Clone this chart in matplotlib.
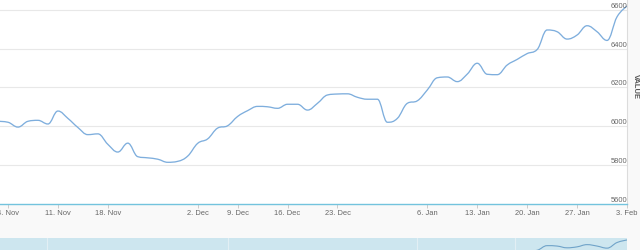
import numpy as np
import matplotlib
matplotlib.use("Agg")
from matplotlib import pyplot as plt
from matplotlib.path import Path
from matplotlib.patches import PathPatch

plt.rcParams['font.family'] = ['Liberation Sans', 'DejaVu Sans']

# one value per trading day, index -1 .. 62 (ordinal x axis, like Highstock)
days = np.arange(-1, 63)
values = [6025, 6020, 5995, 6025, 6030, 6011, 6078, 6040, 5993, 5956,
          5960, 5906, 5866, 5912, 5842, 5836, 5829, 5813, 5818, 5845,
          5911, 5934, 5990, 6002, 6050, 6080, 6102, 6100, 6092, 6113,
          6113, 6083, 6118, 6161, 6166, 6167, 6149, 6139, 6139, 6020,
          6040, 6118, 6131, 6187, 6250, 6254, 6230, 6269, 6325, 6268,
          6266, 6316, 6345, 6375, 6396, 6497, 6488, 6450, 6471, 6519,
          6488, 6443, 6565, 6620]

tick_days = [0, 5, 10, 19, 23, 28, 33, 42, 47, 52, 57, 62]
tick_labels = ["4. Nov", "11. Nov", "18. Nov", "2. Dec", "9. Dec", "16. Dec",
               "23. Dec", "6. Jan", "13. Jan", "20. Jan", "27. Jan", "3. Feb"]
y_ticks = [5600, 5800, 6000, 6200, 6400, 6600]
nav_grid_days = [3.9, 22.0, 41.0, 50.8]

LINE = '#7eaedd'
TXT = '#666666'


def spline_path(xs, ys, smoothing=1.5):
    # same control point rule as the Highcharts spline series
    n = len(xs)
    lc = [None] * n
    rc = [None] * n
    den = smoothing + 1
    for i in range(1, n - 1):
        px, py = xs[i], ys[i]
        lx, ly = xs[i - 1], ys[i - 1]
        nx, ny = xs[i + 1], ys[i + 1]
        lcx = (smoothing * px + lx) / den
        lcy = (smoothing * py + ly) / den
        rcx = (smoothing * px + nx) / den
        rcy = (smoothing * py + ny) / den
        if rcx != lcx:
            corr = (rcy - lcy) * (rcx - px) / (rcx - lcx) + py - rcy
            lcy += corr
            rcy += corr
        if lcy > ly and lcy > py:
            lcy = max(ly, py); rcy = 2 * py - lcy
        elif lcy < ly and lcy < py:
            lcy = min(ly, py); rcy = 2 * py - lcy
        if rcy > ny and rcy > py:
            rcy = max(ny, py); lcy = 2 * py - rcy
        elif rcy < ny and rcy < py:
            rcy = min(ny, py); lcy = 2 * py - rcy
        lc[i] = (lcx, lcy)
        rc[i] = (rcx, rcy)
    verts = [(xs[0], ys[0])]
    codes = [Path.MOVETO]
    for i in range(1, n):
        a = rc[i - 1] or (xs[i - 1], ys[i - 1])
        b = lc[i] or (xs[i], ys[i])
        verts += [a, b, (xs[i], ys[i])]
        codes += [Path.CURVE4] * 3
    return Path(verts, codes)


W, H = 640, 250
fig = plt.figure(figsize=(6.4, 2.5), dpi=100, facecolor='#f9f9f9')

# main plot
ax = fig.add_axes([0, (H - 203.5) / H, 627 / W, 203.5 / H])
ax.set_facecolor('white')
ax.set_xlim(-0.8, 62)
ax.set_ylim(5600, 6652)
ax.add_patch(PathPatch(spline_path(days, values), fill=False,
                       edgecolor=LINE, lw=0.95, clip_on=True))

for v in y_ticks[1:]:
    ax.axhline(v, color='#e8e8e8', lw=0.8, zorder=0)
for v in y_ticks:
    ax.annotate(str(v), xy=(1, v), xycoords=('axes fraction', 'data'),
                xytext=(0, 0), textcoords='offset points',
                ha='right', va='bottom', fontsize=5.4, color=TXT)

ax.set_yticks([])
ax.set_xticks(tick_days, tick_labels)
ax.tick_params(axis='x', length=3, width=0.7, color='#cccccc',
               labelsize=5.4, labelcolor=TXT, pad=1.5)
for s in ['top', 'left']:
    ax.spines[s].set_visible(False)
ax.spines['right'].set_color('#dcdcdc')
ax.spines['right'].set_linewidth(0.8)
ax.spines['bottom'].set_color('#73c3dd')
ax.spines['bottom'].set_linewidth(1.0)

fig.text(635 / W, 1 - 87 / H, 'VALUE', rotation=270, ha='center',
         va='center', fontsize=5.4, fontweight='bold', color='#555555')

# navigator strip at the bottom (cut by the figure edge)
nav = fig.add_axes([0, (H - 278) / H, 627 / W, 40 / H])
nav.set_facecolor('#cde6ef')
nav.set_xlim(-0.8, 62)
nav.set_ylim(5795, 6663)
for d in nav_grid_days:
    nav.axvline(d, color='#e2eff4', lw=0.8)
nav.add_patch(PathPatch(spline_path(days, values), fill=False,
                        edgecolor='#6fa3c9', lw=0.8))
nav.set_xticks([])
nav.set_yticks([])
for s in nav.spines.values():
    s.set_visible(False)

fig.savefig('out.png', dpi=100, facecolor=fig.get_facecolor())
